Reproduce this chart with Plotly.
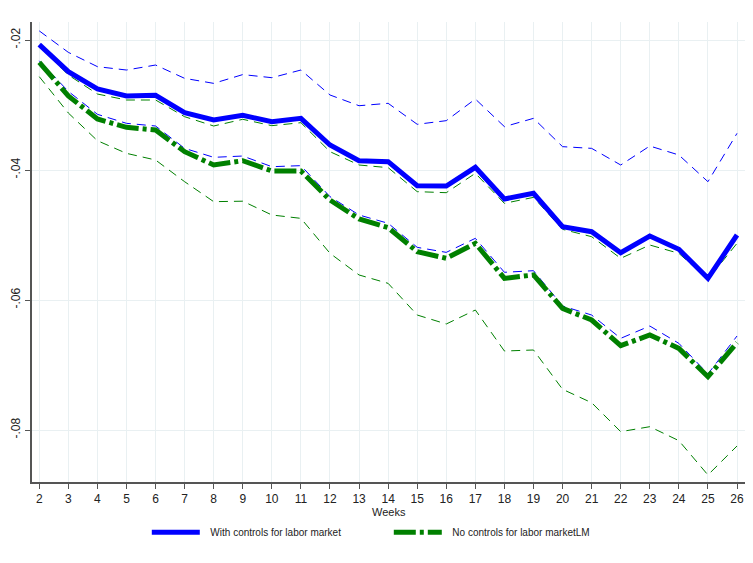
import plotly.graph_objects as go

weeks = list(range(2, 27))

with_ctrl = [-0.02070, -0.02487, -0.02754, -0.02862, -0.02851, -0.03118, -0.03231, -0.03160,
             -0.03256, -0.03205, -0.03615, -0.03857, -0.03872, -0.04241, -0.04246, -0.03959,
             -0.04446, -0.04359, -0.04872, -0.04949, -0.05272, -0.05015, -0.05220, -0.05667, -0.05000]
with_ctrl_hi = [-0.01860, -0.02190, -0.02410, -0.02462, -0.02385, -0.02590, -0.02667, -0.02532,
                -0.02580, -0.02462, -0.02846, -0.03011, -0.02974, -0.03297, -0.03241, -0.02908,
                -0.03333, -0.03205, -0.03641, -0.03667, -0.03923, -0.03631, -0.03769, -0.04180, -0.03436]
with_ctrl_lo = [-0.02320, -0.02790, -0.03143, -0.03282, -0.03323, -0.03667, -0.03805, -0.03785,
                -0.03949, -0.03933, -0.04410, -0.04692, -0.04820, -0.05190, -0.05267, -0.05051,
                -0.05574, -0.05549, -0.06092, -0.06231, -0.06590, -0.06400, -0.06667, -0.07138, -0.06554]

no_ctrl = [-0.02343, -0.02860, -0.03215, -0.03344, -0.03385, -0.03718, -0.03923, -0.03857,
           -0.04015, -0.04015, -0.04462, -0.04754, -0.04887, -0.05256, -0.05359, -0.05128,
           -0.05667, -0.05615, -0.06128, -0.06308, -0.06703, -0.06538, -0.06744, -0.07180, -0.06656]
no_ctrl_hi = [-0.02090, -0.02538, -0.02831, -0.02923, -0.02923, -0.03180, -0.03323, -0.03220,
              -0.03318, -0.03272, -0.03718, -0.03923, -0.03964, -0.04333, -0.04349, -0.04051,
              -0.04513, -0.04421, -0.04913, -0.05026, -0.05359, -0.05154, -0.05282, -0.05682, -0.05128]
no_ctrl_lo = [-0.02564, -0.03123, -0.03549, -0.03744, -0.03846, -0.04180, -0.04487, -0.04480,
              -0.04692, -0.04744, -0.05282, -0.05615, -0.05744, -0.06231, -0.06369, -0.06154,
              -0.06785, -0.06769, -0.07374, -0.07580, -0.08026, -0.07949, -0.08164, -0.08692, -0.08246]

ytick_vals = [-0.02, -0.04, -0.06, -0.08]
ytick_text = ["-.02", "-.04", "-.06", "-.08"]

BLUE = "#0000ff"
GREEN = "#008000"

fig = go.Figure()
fig.add_trace(go.Scatter(x=weeks, y=with_ctrl_hi, mode="lines", showlegend=False,
                         line=dict(color=BLUE, width=1, dash="9px,6px")))
fig.add_trace(go.Scatter(x=weeks, y=with_ctrl_lo, mode="lines", showlegend=False,
                         line=dict(color=BLUE, width=1, dash="9px,6px")))
fig.add_trace(go.Scatter(x=weeks, y=no_ctrl_hi, mode="lines", showlegend=False,
                         line=dict(color=GREEN, width=1, dash="9px,6px")))
fig.add_trace(go.Scatter(x=weeks, y=no_ctrl_lo, mode="lines", showlegend=False,
                         line=dict(color=GREEN, width=1, dash="9px,6px")))
fig.add_trace(go.Scatter(x=weeks, y=with_ctrl, mode="lines", name="  With controls for labor market",
                         line=dict(color=BLUE, width=5)))
fig.add_trace(go.Scatter(x=weeks, y=no_ctrl, mode="lines", name="  No controls for labor marketLM",
                         line=dict(color=GREEN, width=5, dash="22px,4px,4px,4px")))

fig.update_layout(
    width=753, height=563,
    margin=dict(l=32, r=8, t=22, b=81),
    paper_bgcolor="white", plot_bgcolor="white",
    font=dict(family="Liberation Sans, Arial, sans-serif", size=12, color="#222"),
    legend=dict(orientation="h", x=0.161, xanchor="left", y=-0.109, yanchor="middle",
                font=dict(size=10, color="#222"), itemwidth=48, entrywidth=179,
                bgcolor="rgba(0,0,0,0)"),
    showlegend=True,
)
fig.update_xaxes(range=[1.75, 26.275], tickvals=weeks, ticktext=[str(w) for w in weeks],
                 showgrid=True, gridcolor="#e9f0f2", gridwidth=1, zeroline=False,
                 showline=True, linecolor="#555", linewidth=1.5,
                 ticks="outside", ticklen=5, tickcolor="#555",
                 tickfont=dict(size=12, color="#222"))
fig.update_yaxes(range=[-0.088, -0.01723], tickvals=ytick_vals, ticktext=ytick_text,
                 showgrid=True, gridcolor="#e9f0f2", gridwidth=1, zeroline=False,
                 showline=True, linecolor="#555", linewidth=1.5,
                 ticks="outside", ticklen=5, tickcolor="#555", tickangle=-90,
                 tickfont=dict(size=12, color="#222"))
fig.add_annotation(text="Weeks", xref="paper", yref="paper", x=0.5, y=(482 - 512) / 460,
                   xanchor="center", yanchor="middle", showarrow=False,
                   font=dict(size=11, color="#222"))

fig.write_html("out.html")
